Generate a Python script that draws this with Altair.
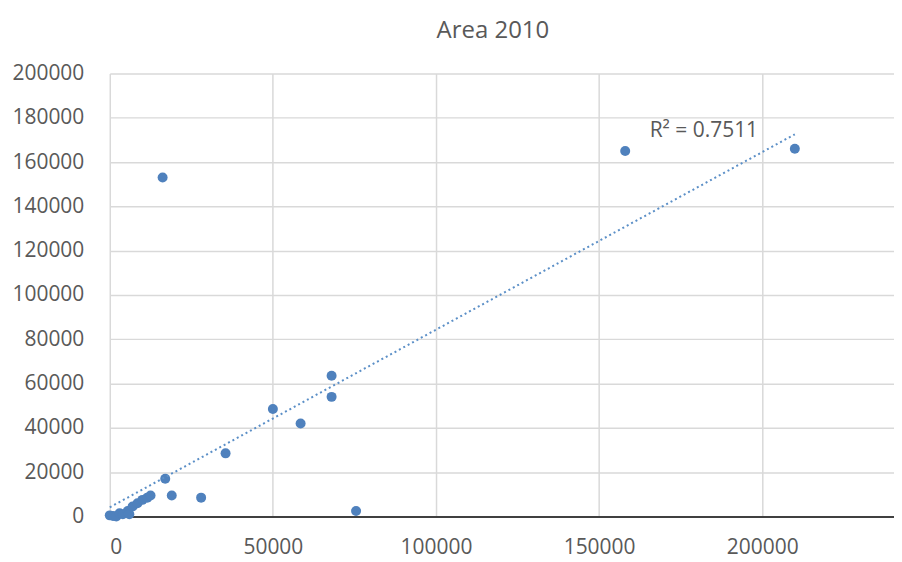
import altair as alt
import pandas as pd

# Data
x_vals = [16200, 158000, 210000, 68000, 68000, 50000, 58500, 35500, 17000, 19000, 28000, 75500,
          0, 1000, 2000, 3000, 4000, 5500, 6000, 7000, 8500, 10000, 11500, 12500]
y_vals = [153000, 165000, 166000, 63500, 54000, 48500, 42000, 28500, 17000, 9500, 8500, 2500,
          500, 200, 0, 1500, 1000, 2500, 1000, 4500, 6000, 7500, 8500, 9500]

x_ticks = [0, 50000, 100000, 150000, 200000]
y_ticks = [0, 20000, 40000, 60000, 80000, 100000, 120000, 140000, 160000, 180000, 200000]

label_text = ["R\u00b2 = 0.7511"]
label_x = [165500]
label_y = [174000]

df = pd.DataFrame({"x": x_vals, "y": y_vals})
lab = pd.DataFrame({"x": label_x, "y": label_y, "t": label_text})

FONT = "Open Sans"
GREY = "#595959"

xs = alt.Scale(domain=[0, 240400], nice=False, zero=True)
ys = alt.Scale(domain=[0, 200000], nice=False)

xaxis = alt.Axis(values=x_ticks, title=None, grid=True, gridColor="#d9d9d9", gridWidth=1.5,
                 domain=True, domainColor="#404040", domainWidth=2, ticks=False,
                 labelPadding=20, labelFontSize=21, labelFont=FONT, labelColor=GREY,
                 format="d")
yaxis = alt.Axis(values=y_ticks, title=None, grid=True, gridColor="#d9d9d9", gridWidth=1.5,
                 domain=False, ticks=False, labelPadding=26, labelFontSize=21,
                 labelFont=FONT, labelColor=GREY, format="d")

points = alt.Chart(df).mark_circle(size=100, color="#4f81bd", opacity=1).encode(
    x=alt.X("x:Q", scale=xs, axis=xaxis),
    y=alt.Y("y:Q", scale=ys, axis=yaxis),
)

trend = alt.Chart(df).transform_regression("x", "y", method="linear").mark_line(
    color="#5b8fc7", strokeWidth=2, strokeDash=[2, 3]
).encode(
    x=alt.X("x:Q", scale=xs),
    y=alt.Y("y:Q", scale=ys),
)

text = alt.Chart(lab).mark_text(align="left", baseline="middle", fontSize=21, font=FONT,
                                color=GREY).encode(
    x=alt.X("x:Q", scale=xs),
    y=alt.Y("y:Q", scale=ys),
    text="t:N",
)

chart = alt.layer(points, trend, text).properties(
    width=786,
    height=444,
    title=alt.TitleParams("Area 2010", fontSize=24, font=FONT, fontWeight="normal",
                          color=GREY, offset=20, dx=-9),
    autosize=alt.AutoSizeParams(type="none"),
    padding={"left": 102, "top": 65, "right": 0, "bottom": 44},
).configure_view(stroke=None)

chart.save("out.html", embed_options={"renderer": "svg", "actions": False})
